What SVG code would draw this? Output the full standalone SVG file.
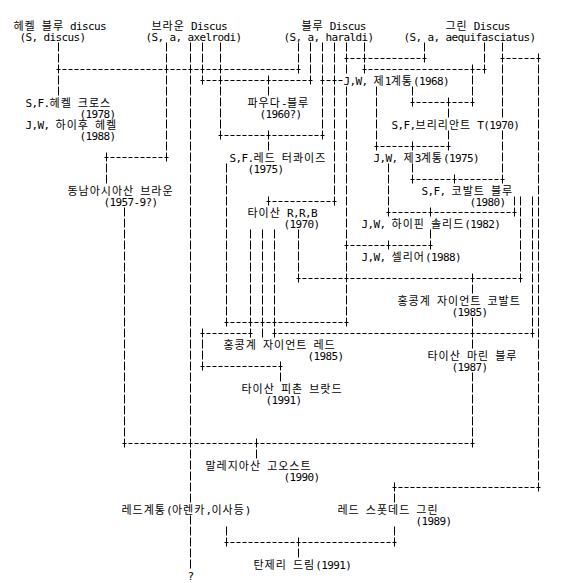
<svg xmlns="http://www.w3.org/2000/svg" width="566" height="583" viewBox="0 0 566 583">
<style>
text { font-family: "DejaVu Sans Mono", "Noto Sans CJK KR", monospace; font-size: 11px; letter-spacing: -0.62px; fill: #000; white-space: pre; }
.h { font-family: "Noto Sans CJK KR", sans-serif; font-size: 11px; letter-spacing: 1px; }
.vl { stroke: #000; stroke-width: 1; stroke-dasharray: 9 2; fill: none; }
.hl { stroke: #000; stroke-width: 1; stroke-dasharray: 4 2; fill: none; }
</style>
<rect width="566" height="583" fill="#fff"/>
<g id="connectors">
<line class="vl" x1="58.5" y1="42.5" x2="58.5" y2="95.5"/>
<line class="vl" x1="166.5" y1="42.5" x2="166.5" y2="161.5"/>
<line class="vl" x1="190.5" y1="42.5" x2="190.5" y2="502.5"/>
<line class="vl" x1="190.5" y1="515.5" x2="190.5" y2="568.5"/>
<line class="vl" x1="202.5" y1="42.5" x2="202.5" y2="84.5"/>
<line class="vl" x1="220.5" y1="42.5" x2="220.5" y2="139.5"/>
<line class="vl" x1="298.5" y1="42.5" x2="298.5" y2="73.5"/>
<line class="vl" x1="310.5" y1="42.5" x2="310.5" y2="84.5"/>
<line class="vl" x1="322.5" y1="42.5" x2="322.5" y2="139.5"/>
<line class="vl" x1="334.5" y1="42.5" x2="334.5" y2="205.5"/>
<line class="vl" x1="346.5" y1="42.5" x2="346.5" y2="73.5"/>
<line class="vl" x1="346.5" y1="86.5" x2="346.5" y2="326.5"/>
<line class="vl" x1="364.5" y1="42.5" x2="364.5" y2="73.5"/>
<line class="vl" x1="424.5" y1="42.5" x2="424.5" y2="62.5"/>
<line class="vl" x1="484.5" y1="42.5" x2="484.5" y2="73.5"/>
<line class="vl" x1="502.5" y1="42.5" x2="502.5" y2="117.5"/>
<line class="vl" x1="502.5" y1="130.5" x2="502.5" y2="183.5"/>
<line class="vl" x1="538.5" y1="53.5" x2="538.5" y2="491.5"/>
<line class="vl" x1="472.5" y1="64.5" x2="472.5" y2="106.5"/>
<line class="vl" x1="412.5" y1="86.5" x2="412.5" y2="106.5"/>
<line class="vl" x1="448.5" y1="97.5" x2="448.5" y2="117.5"/>
<line class="vl" x1="448.5" y1="130.5" x2="448.5" y2="150.5"/>
<line class="vl" x1="376.5" y1="86.5" x2="376.5" y2="150.5"/>
<line class="vl" x1="412.5" y1="141.5" x2="412.5" y2="150.5"/>
<line class="vl" x1="412.5" y1="163.5" x2="412.5" y2="183.5"/>
<line class="vl" x1="268.5" y1="75.5" x2="268.5" y2="95.5"/>
<line class="vl" x1="268.5" y1="130.5" x2="268.5" y2="150.5"/>
<line class="vl" x1="106.5" y1="152.5" x2="106.5" y2="183.5"/>
<line class="vl" x1="124.5" y1="207.5" x2="124.5" y2="447.5"/>
<line class="vl" x1="226.5" y1="163.5" x2="226.5" y2="326.5"/>
<line class="vl" x1="268.5" y1="196.5" x2="268.5" y2="205.5"/>
<line class="vl" x1="454.5" y1="174.5" x2="454.5" y2="183.5"/>
<line class="vl" x1="388.5" y1="163.5" x2="388.5" y2="216.5"/>
<line class="vl" x1="514.5" y1="196.5" x2="514.5" y2="216.5"/>
<line class="vl" x1="430.5" y1="207.5" x2="430.5" y2="216.5"/>
<line class="vl" x1="430.5" y1="229.5" x2="430.5" y2="249.5"/>
<line class="vl" x1="388.5" y1="240.5" x2="388.5" y2="249.5"/>
<line class="vl" x1="520.5" y1="196.5" x2="520.5" y2="282.5"/>
<line class="vl" x1="532.5" y1="196.5" x2="532.5" y2="337.5"/>
<line class="vl" x1="250.5" y1="229.5" x2="250.5" y2="337.5"/>
<line class="vl" x1="262.5" y1="229.5" x2="262.5" y2="337.5"/>
<line class="vl" x1="274.5" y1="229.5" x2="274.5" y2="337.5"/>
<line class="vl" x1="298.5" y1="229.5" x2="298.5" y2="282.5"/>
<line class="vl" x1="472.5" y1="273.5" x2="472.5" y2="293.5"/>
<line class="vl" x1="472.5" y1="317.5" x2="472.5" y2="348.5"/>
<line class="vl" x1="472.5" y1="372.5" x2="472.5" y2="447.5"/>
<line class="vl" x1="202.5" y1="328.5" x2="202.5" y2="370.5"/>
<line class="vl" x1="280.5" y1="361.5" x2="280.5" y2="381.5"/>
<line class="vl" x1="256.5" y1="438.5" x2="256.5" y2="458.5"/>
<line class="vl" x1="394.5" y1="482.5" x2="394.5" y2="502.5"/>
<line class="vl" x1="394.5" y1="526.5" x2="394.5" y2="546.5"/>
<line class="vl" x1="226.5" y1="526.5" x2="226.5" y2="546.5"/>
<line class="vl" x1="298.5" y1="537.5" x2="298.5" y2="557.5"/>
<line class="hl" x1="344.5" y1="58.5" x2="426.5" y2="58.5"/>
<line class="hl" x1="500.5" y1="58.5" x2="540.5" y2="58.5"/>
<line class="hl" x1="56.5" y1="69.5" x2="300.5" y2="69.5"/>
<line class="hl" x1="362.5" y1="69.5" x2="486.5" y2="69.5"/>
<line class="hl" x1="200.5" y1="80.5" x2="312.5" y2="80.5"/>
<line class="hl" x1="320.5" y1="80.5" x2="342.5" y2="80.5"/>
<line class="hl" x1="410.5" y1="102.5" x2="474.5" y2="102.5"/>
<line class="hl" x1="218.5" y1="135.5" x2="324.5" y2="135.5"/>
<line class="hl" x1="374.5" y1="146.5" x2="450.5" y2="146.5"/>
<line class="hl" x1="104.5" y1="157.5" x2="168.5" y2="157.5"/>
<line class="hl" x1="410.5" y1="179.5" x2="504.5" y2="179.5"/>
<line class="hl" x1="266.5" y1="201.5" x2="336.5" y2="201.5"/>
<line class="hl" x1="386.5" y1="212.5" x2="516.5" y2="212.5"/>
<line class="hl" x1="344.5" y1="245.5" x2="432.5" y2="245.5"/>
<line class="hl" x1="296.5" y1="278.5" x2="522.5" y2="278.5"/>
<line class="hl" x1="224.5" y1="322.5" x2="348.5" y2="322.5"/>
<line class="hl" x1="200.5" y1="333.5" x2="252.5" y2="333.5"/>
<line class="hl" x1="272.5" y1="333.5" x2="534.5" y2="333.5"/>
<line class="hl" x1="200.5" y1="366.5" x2="282.5" y2="366.5"/>
<line class="hl" x1="122.5" y1="443.5" x2="474.5" y2="443.5"/>
<line class="hl" x1="392.5" y1="487.5" x2="540.5" y2="487.5"/>
<line class="hl" x1="224.5" y1="542.5" x2="396.5" y2="542.5"/>
</g>
<g id="n-heckel-blue"><text x="13.5" y="29.5"><tspan class="h">헤켈</tspan> <tspan class="h">블루</tspan> discus</text><text x="19.5" y="40.5">(S, discus)</text></g>
<g id="n-brown"><text x="151.5" y="29.5"><tspan class="h">브라운</tspan> Discus</text><text x="145.5" y="40.5">(S, a, axelrodi)</text></g>
<g id="n-blue"><text x="301.5" y="29.5"><tspan class="h">블루</tspan> Discus</text><text x="283.5" y="40.5">(S, a, haraldi)</text></g>
<g id="n-green"><text x="445.5" y="29.5"><tspan class="h">그린</tspan> Discus</text><text x="403.5" y="40.5">(S, a, aequifasciatus)</text></g>
<g id="n-jw1"><text x="343.5" y="84.5">J,W, <tspan class="h">제</tspan>1<tspan class="h">계통</tspan>(1968)</text></g>
<g id="n-heckel-cross"><text x="25.5" y="106.5">S,F.<tspan class="h">헤켈</tspan> <tspan class="h">크로스</tspan></text><text x="79.5" y="117.5">(1978)</text></g>
<g id="n-haihu-heckel"><text x="25.5" y="128.5">J,W, <tspan class="h">하이후</tspan> <tspan class="h">헤켈</tspan></text><text x="79.5" y="139.5">(1988)</text></g>
<g id="n-powder-blue"><text x="247.5" y="106.5"><tspan class="h">파우다</tspan>-<tspan class="h">블루</tspan></text><text x="259.5" y="117.5">(1960?)</text></g>
<g id="n-brilliant"><text x="391.5" y="128.5">S,F,<tspan class="h">브리리안트</tspan> T(1970)</text></g>
<g id="n-red-turquoise"><text x="229.5" y="161.5">S,F.<tspan class="h">레드</tspan> <tspan class="h">터콰이즈</tspan></text><text x="247.5" y="172.5">(1975)</text></g>
<g id="n-jw3"><text x="373.5" y="161.5">J,W, <tspan class="h">제</tspan>3<tspan class="h">계통</tspan>(1975)</text></g>
<g id="n-sea-brown"><text x="67.5" y="194.5"><tspan class="h">동남아시아산</tspan> <tspan class="h">브라운</tspan></text><text x="103.5" y="205.5">(1957-9?)</text></g>
<g id="n-cobalt"><text x="421.5" y="194.5">S,F, <tspan class="h">코발트</tspan> <tspan class="h">블루</tspan></text><text x="469.5" y="205.5">(1980)</text></g>
<g id="n-rrb"><text x="247.5" y="216.5"><tspan class="h">타이산</tspan> R,R,B</text><text x="283.5" y="227.5">(1970)</text></g>
<g id="n-hifin"><text x="361.5" y="227.5">J,W, <tspan class="h">하이핀</tspan> <tspan class="h">솔리드</tspan>(1982)</text></g>
<g id="n-cellier"><text x="361.5" y="260.5">J,W, <tspan class="h">셀리어</tspan>(1988)</text></g>
<g id="n-hk-cobalt"><text x="397.5" y="304.5"><tspan class="h">홍콩계</tspan> <tspan class="h">자이언트</tspan> <tspan class="h">코발트</tspan></text><text x="451.5" y="315.5">(1985)</text></g>
<g id="n-hk-red"><text x="223.5" y="348.5"><tspan class="h">홍콩계</tspan> <tspan class="h">자이언트</tspan> <tspan class="h">레드</tspan></text><text x="307.5" y="359.5">(1985)</text></g>
<g id="n-marine"><text x="427.5" y="359.5"><tspan class="h">타이산</tspan> <tspan class="h">마린</tspan> <tspan class="h">블루</tspan></text><text x="451.5" y="370.5">(1987)</text></g>
<g id="n-pigeon"><text x="241.5" y="392.5"><tspan class="h">타이산</tspan> <tspan class="h">피촌</tspan> <tspan class="h">브랏드</tspan></text><text x="265.5" y="403.5">(1991)</text></g>
<g id="n-ghost"><text x="205.5" y="469.5"><tspan class="h">말레지아산</tspan> <tspan class="h">고오스트</tspan></text><text x="283.5" y="480.5">(1990)</text></g>
<g id="n-red-line"><text x="121.5" y="513.5"><tspan class="h">레드계통</tspan>(<tspan class="h">아렌카</tspan>,<tspan class="h">이사등</tspan>)</text></g>
<g id="n-spotted"><text x="337.5" y="513.5"><tspan class="h">레드</tspan> <tspan class="h">스폿데드</tspan> <tspan class="h">그린</tspan></text><text x="415.5" y="524.5">(1989)</text></g>
<g id="n-tangerine"><text x="253.5" y="568.5"><tspan class="h">탄제리</tspan> <tspan class="h">드림</tspan>(1991)</text></g>
<g id="n-unknown"><text x="187.5" y="579.5">?</text></g>
</svg>
